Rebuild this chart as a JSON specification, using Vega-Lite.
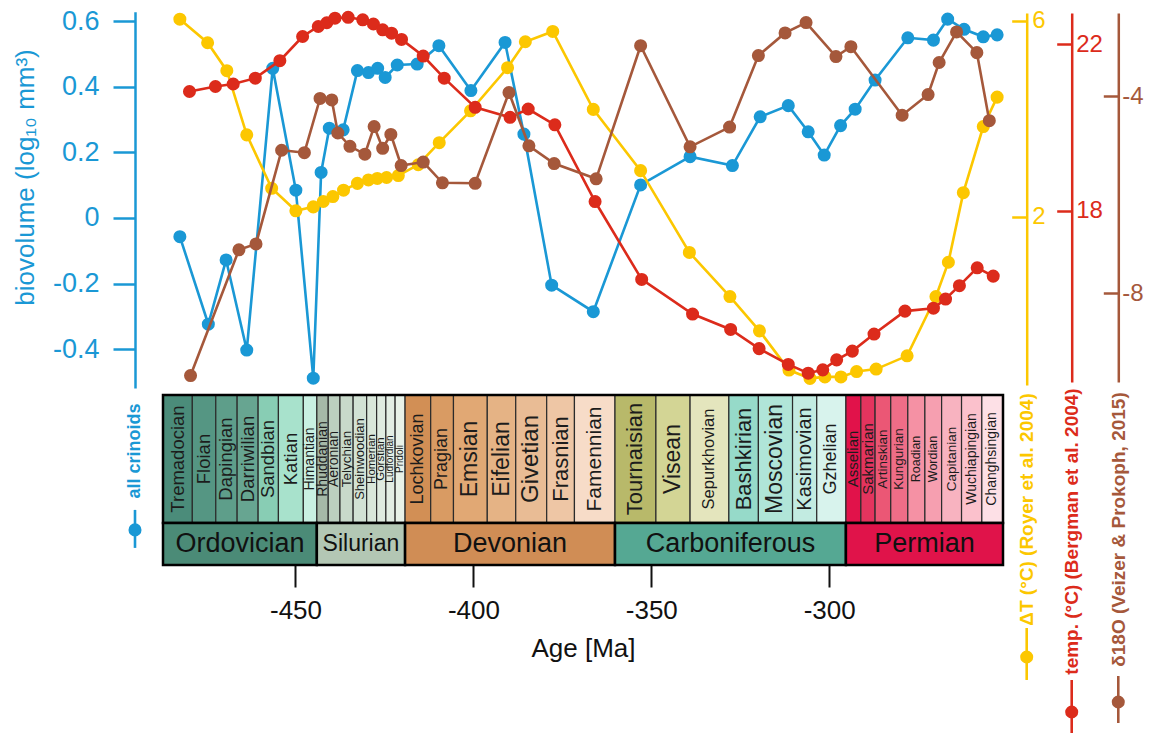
{
  "$schema": "https://vega.github.io/schema/vega-lite/v6.json",
  "width": 840,
  "height": 565,
  "autosize": {"type": "none"},
  "padding": {"left": 163, "top": 0, "right": 160, "bottom": 168},
  "background": "white",
  "config": {
    "view": {"stroke": null},
    "font": "Liberation Sans",
    "axis": {"grid": false}
  },
  "datasets": {
    "stages": [
      {"name": "Tremadocian", "period": "Ordovician", "start": -487.24, "end": -479.0},
      {"name": "Floian", "period": "Ordovician", "start": -479.0, "end": -472.4},
      {"name": "Dapingian", "period": "Ordovician", "start": -472.4, "end": -466.4},
      {"name": "Darriwilian", "period": "Ordovician", "start": -466.4, "end": -460.5},
      {"name": "Sandbian", "period": "Ordovician", "start": -460.5, "end": -454.8},
      {"name": "Katian", "period": "Ordovician", "start": -454.8, "end": -447.8},
      {"name": "Himantian", "period": "Ordovician", "start": -447.8, "end": -444.0},
      {"name": "Rhuddanian", "period": "Silurian", "start": -444.0, "end": -440.8},
      {"name": "Aeronian", "period": "Silurian", "start": -440.8, "end": -437.5},
      {"name": "Telychian", "period": "Silurian", "start": -437.5, "end": -433.8},
      {"name": "Sheinwoodian", "period": "Silurian", "start": -433.8, "end": -430.0},
      {"name": "Homerian", "period": "Silurian", "start": -430.0, "end": -427.2},
      {"name": "Gorstian", "period": "Silurian", "start": -427.2, "end": -424.6},
      {"name": "Ludfordian", "period": "Silurian", "start": -424.6, "end": -422.0},
      {"name": "Pridoli", "period": "Silurian", "start": -422.0, "end": -419.2},
      {"name": "Lochkovian", "period": "Devonian", "start": -419.2, "end": -412.0},
      {"name": "Pragian", "period": "Devonian", "start": -412.0, "end": -405.6},
      {"name": "Emsian", "period": "Devonian", "start": -405.6, "end": -396.1},
      {"name": "Eifelian", "period": "Devonian", "start": -396.1, "end": -388.1},
      {"name": "Givetian", "period": "Devonian", "start": -388.1, "end": -379.4},
      {"name": "Frasnian", "period": "Devonian", "start": -379.4, "end": -371.6},
      {"name": "Famennian", "period": "Devonian", "start": -371.6, "end": -360.2},
      {"name": "Tournaisian", "period": "Carboniferous", "start": -360.2, "end": -348.7},
      {"name": "Visean", "period": "Carboniferous", "start": -348.7, "end": -339.1},
      {"name": "Sepurkhovian", "period": "Carboniferous", "start": -339.1, "end": -328.2},
      {"name": "Bashkirian", "period": "Carboniferous", "start": -328.2, "end": -319.9},
      {"name": "Moscovian", "period": "Carboniferous", "start": -319.9, "end": -310.3},
      {"name": "Kasimovian", "period": "Carboniferous", "start": -310.3, "end": -303.5},
      {"name": "Gzhelian", "period": "Carboniferous", "start": -303.5, "end": -295.3},
      {"name": "Asselian", "period": "Permian", "start": -295.3, "end": -291.1},
      {"name": "Sakmarian", "period": "Permian", "start": -291.1, "end": -287.1},
      {"name": "Artinskian", "period": "Permian", "start": -287.1, "end": -282.7},
      {"name": "Kungurian", "period": "Permian", "start": -282.7, "end": -277.9},
      {"name": "Roadian", "period": "Permian", "start": -277.9, "end": -273.1},
      {"name": "Wordian", "period": "Permian", "start": -273.1, "end": -268.4},
      {"name": "Capitanian", "period": "Permian", "start": -268.4, "end": -262.8},
      {"name": "Wuchiapingian", "period": "Permian", "start": -262.8, "end": -257.1},
      {"name": "Changhsingian", "period": "Permian", "start": -257.1, "end": -251.15}
    ],
    "periods": [
      {"name": "Ordovician", "start": -487.24, "end": -444.0},
      {"name": "Silurian", "start": -444.0, "end": -419.2},
      {"name": "Devonian", "start": -419.2, "end": -360.2},
      {"name": "Carboniferous", "start": -360.2, "end": -295.3},
      {"name": "Permian", "start": -295.3, "end": -251.15}
    ],
    "biovolume": [
      {"age": -482.5, "value": -0.057}, {"age": -474.5, "value": -0.324}, {"age": -469.5, "value": -0.128},
      {"age": -463.7, "value": -0.403}, {"age": -456.4, "value": 0.457}, {"age": -449.9, "value": 0.085},
      {"age": -445.0, "value": -0.489}, {"age": -442.8, "value": 0.139}, {"age": -440.5, "value": 0.274},
      {"age": -436.6, "value": 0.269}, {"age": -432.6, "value": 0.45}, {"age": -429.5, "value": 0.444},
      {"age": -426.9, "value": 0.457}, {"age": -424.8, "value": 0.429}, {"age": -421.4, "value": 0.467},
      {"age": -415.8, "value": 0.47}, {"age": -409.7, "value": 0.526}, {"age": -400.7, "value": 0.389},
      {"age": -391.1, "value": 0.536}, {"age": -385.8, "value": 0.256}, {"age": -378.0, "value": -0.205},
      {"age": -366.3, "value": -0.286}, {"age": -353.0, "value": 0.101}, {"age": -339.1, "value": 0.187},
      {"age": -327.2, "value": 0.16}, {"age": -319.4, "value": 0.309}, {"age": -311.5, "value": 0.343},
      {"age": -305.9, "value": 0.263}, {"age": -301.4, "value": 0.192}, {"age": -296.8, "value": 0.282},
      {"age": -292.7, "value": 0.332}, {"age": -287.1, "value": 0.421}, {"age": -277.9, "value": 0.55},
      {"age": -270.7, "value": 0.543}, {"age": -266.7, "value": 0.607}, {"age": -262.1, "value": 0.576},
      {"age": -256.7, "value": 0.553}, {"age": -252.8, "value": 0.559}
    ],
    "dT": [
      {"age": -482.5, "value": 6.03}, {"age": -474.7, "value": 5.55}, {"age": -469.3, "value": 4.98},
      {"age": -463.7, "value": 3.67}, {"age": -456.7, "value": 2.58}, {"age": -449.9, "value": 2.12},
      {"age": -445.0, "value": 2.2}, {"age": -442.2, "value": 2.31}, {"age": -439.5, "value": 2.41},
      {"age": -436.5, "value": 2.54}, {"age": -432.6, "value": 2.68}, {"age": -429.5, "value": 2.75},
      {"age": -427.0, "value": 2.78}, {"age": -424.4, "value": 2.8}, {"age": -421.1, "value": 2.84},
      {"age": -415.5, "value": 3.06}, {"age": -409.6, "value": 3.51}, {"age": -400.8, "value": 4.16},
      {"age": -390.4, "value": 5.04}, {"age": -385.4, "value": 5.57}, {"age": -377.7, "value": 5.78},
      {"age": -366.3, "value": 4.19}, {"age": -353.0, "value": 2.94}, {"age": -339.3, "value": 1.27},
      {"age": -327.9, "value": 0.37}, {"age": -319.6, "value": -0.33}, {"age": -311.3, "value": -1.13},
      {"age": -305.4, "value": -1.3}, {"age": -301.2, "value": -1.27}, {"age": -296.7, "value": -1.27},
      {"age": -292.3, "value": -1.16}, {"age": -286.8, "value": -1.11}, {"age": -278.1, "value": -0.84},
      {"age": -270.0, "value": 0.37}, {"age": -266.5, "value": 1.07}, {"age": -262.3, "value": 2.49},
      {"age": -256.7, "value": 3.84}, {"age": -252.8, "value": 4.44}
    ],
    "temp": [
      {"age": -479.8, "value": 20.86}, {"age": -472.5, "value": 20.98}, {"age": -467.5, "value": 21.04},
      {"age": -461.3, "value": 21.18}, {"age": -454.4, "value": 21.6}, {"age": -448.0, "value": 22.18},
      {"age": -443.6, "value": 22.42}, {"age": -441.2, "value": 22.51}, {"age": -438.9, "value": 22.62},
      {"age": -435.2, "value": 22.64}, {"age": -431.1, "value": 22.58}, {"age": -428.1, "value": 22.48},
      {"age": -425.5, "value": 22.34}, {"age": -423.0, "value": 22.26}, {"age": -420.2, "value": 22.11},
      {"age": -414.1, "value": 21.71}, {"age": -408.2, "value": 21.18}, {"age": -399.5, "value": 20.48},
      {"age": -389.7, "value": 20.24}, {"age": -384.6, "value": 20.44}, {"age": -377.1, "value": 20.06},
      {"age": -365.8, "value": 18.22}, {"age": -352.7, "value": 16.35}, {"age": -338.4, "value": 15.52},
      {"age": -327.7, "value": 15.15}, {"age": -319.7, "value": 14.69}, {"age": -311.5, "value": 14.31},
      {"age": -305.9, "value": 14.1}, {"age": -301.8, "value": 14.18}, {"age": -297.9, "value": 14.42},
      {"age": -293.5, "value": 14.63}, {"age": -287.4, "value": 15.04}, {"age": -278.7, "value": 15.59},
      {"age": -270.7, "value": 15.66}, {"age": -267.3, "value": 15.88}, {"age": -263.4, "value": 16.2},
      {"age": -258.4, "value": 16.63}, {"age": -253.9, "value": 16.43}
    ],
    "d18O": [
      {"age": -479.5, "value": -9.67}, {"age": -465.9, "value": -7.12}, {"age": -461.1, "value": -7.0},
      {"age": -453.9, "value": -5.1}, {"age": -447.5, "value": -5.15}, {"age": -443.1, "value": -4.05},
      {"age": -439.8, "value": -4.08}, {"age": -438.1, "value": -4.75}, {"age": -434.7, "value": -5.02},
      {"age": -430.5, "value": -5.18}, {"age": -427.9, "value": -4.62}, {"age": -425.5, "value": -5.06},
      {"age": -423.2, "value": -4.78}, {"age": -420.3, "value": -5.41}, {"age": -414.1, "value": -5.34},
      {"age": -408.7, "value": -5.76}, {"age": -399.5, "value": -5.77}, {"age": -390.0, "value": -3.93},
      {"age": -384.4, "value": -5.01}, {"age": -377.3, "value": -5.37}, {"age": -365.5, "value": -5.68},
      {"age": -353.0, "value": -2.98}, {"age": -339.1, "value": -5.03}, {"age": -328.0, "value": -4.63},
      {"age": -319.9, "value": -3.18}, {"age": -312.4, "value": -2.72}, {"age": -306.5, "value": -2.51},
      {"age": -298.1, "value": -3.2}, {"age": -293.9, "value": -3.0}, {"age": -279.5, "value": -4.39},
      {"age": -272.2, "value": -3.97}, {"age": -269.1, "value": -3.32}, {"age": -264.2, "value": -2.7},
      {"age": -258.5, "value": -3.12}, {"age": -255.0, "value": -4.5}
    ]
  },
  "layer": [
    {
      "data": {"name": "stages"},
      "layer": [
        {
          "mark": {"type": "rect", "stroke": "#2b2b2b", "strokeWidth": 1.2},
          "encoding": {
            "x": {"field": "start", "type": "quantitative", "scale": {"domain": [-487.24, -251.15], "nice": false, "zero": false},
              "axis": {"values": [-450, -400, -350, -300], "format": "d", "labelExpr": "replace(datum.label, '−', '-')", "domain": false, "ticks": true, "tickSize": 22, "tickWidth": 2, "tickColor": "#111111", "labelFontSize": 26, "labelColor": "#111111", "labelPadding": 10, "labelFlush": false, "title": "Age [Ma]", "titleFontSize": 26, "titleFontWeight": "normal", "titleColor": "#111111", "titleY": 83, "titleBaseline": "middle", "grid": false}},
            "x2": {"field": "end"},
            "y": {"datum": 0, "type": "quantitative", "scale": {"domain": [0, 1], "range": [523, 395], "nice": false, "zero": false}, "axis": null},
            "y2": {"datum": 1},
            "color": {"field": "name", "type": "nominal", "legend": null,
              "scale": {
                "domain": ["Tremadocian","Floian","Dapingian","Darriwilian","Sandbian","Katian","Himantian","Rhuddanian","Aeronian","Telychian","Sheinwoodian","Homerian","Gorstian","Ludfordian","Pridoli","Lochkovian","Pragian","Emsian","Eifelian","Givetian","Frasnian","Famennian","Tournaisian","Visean","Sepurkhovian","Bashkirian","Moscovian","Kasimovian","Gzhelian","Asselian","Sakmarian","Artinskian","Kungurian","Roadian","Wordian","Capitanian","Wuchiapingian","Changhsingian"],
                "range": ["#4b8c7a","#559683","#5e9e8a","#67a591","#88cdb4","#a8e2cc","#c9f0e2","#a6b9a8","#bccfbf","#c8d9ca","#d2e2d4","#d9e7da","#dfebe0","#e3eee4","#e8f2e8","#d28f55","#d99b63","#e1a874","#e5b385","#e9bc95","#eec6a5","#f7dcc8","#b8b96a","#d3d595","#e4e5bd","#96dac9","#b0e5d8","#c2ebe1","#d8f3ed","#e1124a","#e4345e","#eb5775","#ef6d87","#f591a4","#f69fb0","#f8b3c0","#fbc1cc","#fde0e6"]
              }}
          }
        },
        {
          "transform": [{"fold": ["start", "end"], "as": ["edge", "age"]}],
          "mark": {"type": "text", "angle": 270, "align": "center", "baseline": "middle", "color": "#1c1c1c", "font": "Liberation Sans"},
          "encoding": {
            "x": {"field": "age", "aggregate": "mean", "type": "quantitative", "scale": {"domain": [-487.24, -251.15], "nice": false, "zero": false}},
            "y": {"datum": 0.5, "type": "quantitative", "axis": null},
            "text": {"field": "name", "type": "nominal"},
            "size": {
              "condition": [
                {"test": {"field": "name", "oneOf": ["Tremadocian","Floian","Dapingian","Darriwilian","Sandbian","Katian"]}, "value": 18.5},
                {"test": {"field": "name", "oneOf": ["Himantian","Rhuddanian","Aeronian","Wuchiapingian","Changhsingian"]}, "value": 14},
                {"test": {"field": "name", "oneOf": ["Telychian","Artinskian","Kungurian","Capitanian"]}, "value": 13.5},
                {"test": {"field": "name", "oneOf": ["Sheinwoodian"]}, "value": 13},
                {"test": {"field": "name", "oneOf": ["Homerian","Gorstian"]}, "value": 11.5},
                {"test": {"field": "name", "oneOf": ["Ludfordian","Pridoli"]}, "value": 10},
                {"test": {"field": "name", "oneOf": ["Emsian","Eifelian","Visean","Moscovian"]}, "value": 23},
                {"test": {"field": "name", "oneOf": ["Givetian"]}, "value": 24},
                {"test": {"field": "name", "oneOf": ["Frasnian","Tournaisian","Bashkirian"]}, "value": 22},
                {"test": {"field": "name", "oneOf": ["Famennian"]}, "value": 21},
                {"test": {"field": "name", "oneOf": ["Kasimovian"]}, "value": 20},
                {"test": {"field": "name", "oneOf": ["Sepurkhovian"]}, "value": 16.5},
                {"test": {"field": "name", "oneOf": ["Sakmarian","Asselian"]}, "value": 15},
                {"test": {"field": "name", "oneOf": ["Roadian","Wordian"]}, "value": 12.5}
              ],
              "value": 18
            }
          }
        },
        {
          "mark": {"type": "rect", "filled": false, "stroke": "#000000", "strokeWidth": 2.5},
          "encoding": {
            "x": {"field": "start", "aggregate": "min", "type": "quantitative", "scale": {"domain": [-487.24, -251.15], "nice": false, "zero": false}},
            "x2": {"field": "end", "aggregate": "max"},
            "y": {"datum": 0, "type": "quantitative", "axis": null},
            "y2": {"datum": 1}
          }
        }
      ]
    },
    {
      "data": {"name": "periods"},
      "layer": [
        {
          "mark": {"type": "rect", "stroke": "#000000", "strokeWidth": 2.5},
          "encoding": {
            "x": {"field": "start", "type": "quantitative", "scale": {"domain": [-487.24, -251.15], "nice": false, "zero": false}},
            "x2": {"field": "end"},
            "y": {"datum": 0, "type": "quantitative", "scale": {"domain": [0, 1], "range": [565, 523], "nice": false, "zero": false}, "axis": null},
            "y2": {"datum": 1},
            "color": {"field": "name", "type": "nominal", "legend": null,
              "scale": {"domain": ["Ordovician","Silurian","Devonian","Carboniferous","Permian"], "range": ["#4b8b77","#b3c7b4","#d08d55","#55a893","#e0134a"]}}
          }
        },
        {
          "transform": [{"fold": ["start", "end"], "as": ["edge", "age"]}],
          "mark": {"type": "text", "align": "center", "baseline": "middle", "color": "#111111", "font": "Liberation Sans"},
          "encoding": {
            "x": {"field": "age", "aggregate": "mean", "type": "quantitative", "scale": {"domain": [-487.24, -251.15], "nice": false, "zero": false}},
            "y": {"datum": 0.5, "type": "quantitative", "axis": null},
            "text": {"field": "name", "type": "nominal"},
            "size": {"condition": [{"test": {"field": "name", "oneOf": ["Silurian"]}, "value": 23}], "value": 27}
          }
        }
      ]
    },
    {
      "data": {"name": "biovolume"},
      "layer": [
        {
          "mark": {"type": "line", "color": "#1a98d5", "strokeWidth": 2.6},
          "encoding": {
            "x": {"field": "age", "type": "quantitative", "scale": {"domain": [-487.24, -251.15], "nice": false, "zero": false}},
            "y": {"field": "value", "type": "quantitative",
              "scale": {"domain": [-0.5189, 0.6297], "range": [388, 11.7], "nice": false, "zero": false},
              "axis": {"orient": "left", "offset": 28, "values": [-0.4, -0.2, 0, 0.2, 0.4, 0.6], "format": ".1~f", "labelExpr": "replace(datum.label, '−', '-')", "domainColor": "#1a98d5", "domainWidth": 2.5, "tickColor": "#1a98d5", "tickWidth": 2.5, "tickSize": 22, "labelColor": "#1a98d5", "labelFontSize": 27, "labelPadding": 14, "title": "biovolume (log₁₀ mm³)", "titleColor": "#1a98d5", "titleFontSize": 26, "titleFontWeight": "normal", "titleAngle": 270, "titleX": -110, "titleY": 177, "titleAlign": "center", "titleBaseline": "middle", "grid": false}}
          }
        },
        {
          "mark": {"type": "point", "filled": true, "opacity": 1, "size": 170, "color": "#1a98d5"},
          "encoding": {
            "x": {"field": "age", "type": "quantitative"},
            "y": {"field": "value", "type": "quantitative"}
          }
        },
        {
          "data": {"values": [{}]},
          "mark": {"type": "rule", "color": "#1a98d5", "strokeWidth": 2.6},
          "encoding": {
            "x": {"datum": -495.11, "type": "quantitative"},
            "y": {"datum": -0.891, "type": "quantitative"},
            "y2": {"datum": -1.007}
          }
        },
        {
          "data": {"values": [{}]},
          "mark": {"type": "point", "filled": true, "opacity": 1, "size": 170, "color": "#1a98d5"},
          "encoding": {
            "x": {"datum": -495.11, "type": "quantitative"},
            "y": {"datum": -0.952, "type": "quantitative"}
          }
        },
        {
          "data": {"values": [{}]},
          "mark": {"type": "text", "text": "all crinoids", "angle": 270, "fontWeight": "bold", "fontSize": 18, "color": "#1a98d5", "align": "center", "baseline": "middle", "font": "Liberation Sans"},
          "encoding": {
            "x": {"datum": -495.11, "type": "quantitative"},
            "y": {"datum": -0.711, "type": "quantitative"}
          }
        }
      ]
    },
    {
      "data": {"name": "dT"},
      "layer": [
        {
          "mark": {"type": "line", "color": "#fcc700", "strokeWidth": 2.6},
          "encoding": {
            "x": {"field": "age", "type": "quantitative", "scale": {"domain": [-487.24, -251.15], "nice": false, "zero": false}},
            "y": {"field": "value", "type": "quantitative",
              "scale": {"domain": [-1.435, 6.157], "range": [385, 13], "nice": false, "zero": false},
              "axis": {"orient": "right", "offset": 23.7, "values": [2, 6], "format": "d", "domainColor": "#fcc700", "domainWidth": 2.5, "tickColor": "#fcc700", "tickWidth": 2.5, "tickSize": -15, "labelColor": "#fcc700", "labelFontSize": 24, "labelPadding": 20, "labelAlign": "left", "title": "ΔT (°C) (Royer et al. 2004)", "titleColor": "#fcc700", "titleFontSize": 19, "titleFontWeight": "bold", "titleAngle": 270, "titleX": 0, "titleY": 509, "titleAlign": "center", "titleBaseline": "middle", "grid": false}}
          }
        },
        {
          "mark": {"type": "point", "filled": true, "opacity": 1, "size": 170, "color": "#fcc700"},
          "encoding": {
            "x": {"field": "age", "type": "quantitative"},
            "y": {"field": "value", "type": "quantitative"}
          }
        },
        {
          "data": {"values": [{}]},
          "mark": {"type": "rule", "color": "#fcc700", "strokeWidth": 2.6},
          "encoding": {
            "x": {"datum": -244.49, "type": "quantitative"},
            "y": {"datum": -6.394, "type": "quantitative"},
            "y2": {"datum": -7.455}
          }
        },
        {
          "data": {"values": [{}]},
          "mark": {"type": "point", "filled": true, "opacity": 1, "size": 170, "color": "#fcc700"},
          "encoding": {
            "x": {"datum": -244.49, "type": "quantitative"},
            "y": {"datum": -6.986, "type": "quantitative"}
          }
        }
      ]
    },
    {
      "data": {"name": "temp"},
      "layer": [
        {
          "mark": {"type": "line", "color": "#dc2b1b", "strokeWidth": 2.6},
          "encoding": {
            "x": {"field": "age", "type": "quantitative", "scale": {"domain": [-487.24, -251.15], "nice": false, "zero": false}},
            "y": {"field": "value", "type": "quantitative",
              "scale": {"domain": [13.889, 22.744], "range": [382, 13], "nice": false, "zero": false},
              "axis": {"orient": "right", "offset": 68.7, "values": [18, 22], "format": "d", "domainColor": "#dc2b1b", "domainWidth": 2.5, "tickColor": "#dc2b1b", "tickWidth": 2.5, "tickSize": -15, "labelColor": "#dc2b1b", "labelFontSize": 24, "labelPadding": 19, "labelAlign": "left", "title": "temp. (°C) (Bergman et al. 2004)", "titleColor": "#dc2b1b", "titleFontSize": 19, "titleFontWeight": "bold", "titleAngle": 270, "titleX": 0, "titleY": 531, "titleAlign": "center", "titleBaseline": "middle", "grid": false}}
          }
        },
        {
          "mark": {"type": "point", "filled": true, "opacity": 1, "size": 170, "color": "#dc2b1b"},
          "encoding": {
            "x": {"field": "age", "type": "quantitative"},
            "y": {"field": "value", "type": "quantitative"}
          }
        },
        {
          "data": {"values": [{}]},
          "mark": {"type": "rule", "color": "#dc2b1b", "strokeWidth": 2.6},
          "encoding": {
            "x": {"datum": -231.84, "type": "quantitative"},
            "y": {"datum": 6.738, "type": "quantitative"},
            "y2": {"datum": 5.465}
          }
        },
        {
          "data": {"values": [{}]},
          "mark": {"type": "point", "filled": true, "opacity": 1, "size": 170, "color": "#dc2b1b"},
          "encoding": {
            "x": {"datum": -231.84, "type": "quantitative"},
            "y": {"datum": 5.97, "type": "quantitative"}
          }
        }
      ]
    },
    {
      "data": {"name": "d18O"},
      "layer": [
        {
          "mark": {"type": "line", "color": "#a5583b", "strokeWidth": 2.6},
          "encoding": {
            "x": {"field": "age", "type": "quantitative", "scale": {"domain": [-487.24, -251.15], "nice": false, "zero": false}},
            "y": {"field": "value", "type": "quantitative",
              "scale": {"domain": [-9.801, -2.316], "range": [382, 13], "nice": false, "zero": false},
              "axis": {"orient": "right", "offset": 115.3, "values": [-8, -4], "format": "d", "labelExpr": "replace(datum.label, '−', '-')", "domainColor": "#a5583b", "domainWidth": 2.5, "tickColor": "#a5583b", "tickWidth": 2.5, "tickSize": -15, "labelColor": "#a5583b", "labelFontSize": 24, "labelPadding": 18.5, "labelAlign": "left", "title": "δ18O (Veizer & Prokoph, 2015)", "titleColor": "#a5583b", "titleFontSize": 19, "titleFontWeight": "bold", "titleAngle": 270, "titleX": 0, "titleY": 529, "titleAlign": "center", "titleBaseline": "middle", "grid": false}}
          }
        },
        {
          "mark": {"type": "point", "filled": true, "opacity": 1, "size": 170, "color": "#a5583b"},
          "encoding": {
            "x": {"field": "age", "type": "quantitative"},
            "y": {"field": "value", "type": "quantitative"}
          }
        },
        {
          "data": {"values": [{}]},
          "mark": {"type": "rule", "color": "#a5583b", "strokeWidth": 2.6},
          "encoding": {
            "x": {"datum": -218.75, "type": "quantitative"},
            "y": {"datum": -15.765, "type": "quantitative"},
            "y2": {"datum": -16.718}
          }
        },
        {
          "data": {"values": [{}]},
          "mark": {"type": "point", "filled": true, "opacity": 1, "size": 170, "color": "#a5583b"},
          "encoding": {
            "x": {"datum": -218.75, "type": "quantitative"},
            "y": {"datum": -16.292, "type": "quantitative"}
          }
        }
      ]
    }
  ],
  "resolve": {"scale": {"y": "independent", "color": "independent", "size": "independent"}, "axis": {"y": "independent"}}
}
